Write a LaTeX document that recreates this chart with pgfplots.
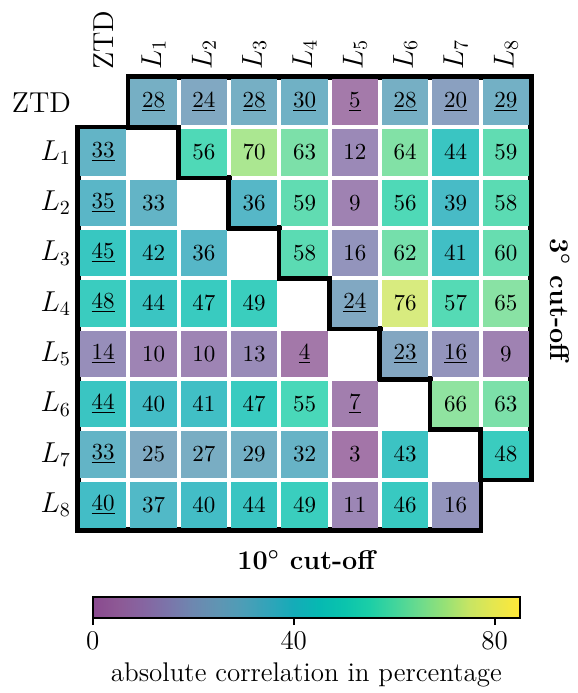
\RequirePackage{fix-cm}
\documentclass[border=0pt]{standalone}
\usepackage{pgfplots}
\usepackage{pgfplotstable}
\pgfplotsset{compat=1.18}

\pgfplotstableread{
x y v
2 1 56
3 1 70
4 1 63
5 1 12
6 1 64
7 1 44
8 1 59
1 2 33
3 2 36
4 2 59
5 2 9
6 2 56
7 2 39
8 2 58
1 3 42
2 3 36
4 3 58
5 3 16
6 3 62
7 3 41
8 3 60
1 4 44
2 4 47
3 4 49
6 4 76
7 4 57
8 4 65
1 5 10
2 5 10
3 5 13
8 5 9
1 6 40
2 6 41
3 6 47
4 6 55
7 6 66
8 6 63
1 7 25
2 7 27
3 7 29
4 7 32
5 7 3
6 7 43
8 7 48
1 8 37
2 8 40
3 8 44
4 8 49
5 8 11
6 8 46
7 8 16
}\tabplain

\pgfplotstableread{
x y v
1 0 28
2 0 24
3 0 28
4 0 30
5 0 5
6 0 28
7 0 20
8 0 29
0 1 33
0 2 35
0 3 45
0 4 48
0 5 14
0 6 44
0 7 33
0 8 40
5 4 24
4 5 4
6 5 23
7 5 16
5 6 7
}\tabunder

\newcommand{\lab}{\fontsize{14.4}{17}\selectfont}
\newcommand{\cbl}{\fontsize{13.5}{16}\selectfont}
\newcommand{\cel}{\fontsize{11.5}{13}\selectfont}

\pgfplotsset{
  colormap={cmap}{
    rgb255=(138,74,143) rgb255=(141,89,149) rgb255=(134,101,161) rgb255=(123,117,170)
    rgb255=(109,136,176) rgb255=(95,149,179) rgb255=(76,158,183) rgb255=(49,164,185)
    rgb255=(20,172,184) rgb255=(6,185,178) rgb255=(10,196,173) rgb255=(27,206,167)
    rgb255=(65,213,156) rgb255=(108,219,141) rgb255=(150,225,118) rgb255=(200,229,99)
    rgb255=(230,231,78) rgb255=(255,232,56)
  },
}

\begin{document}
\begin{tikzpicture}
\begin{axis}[
  name=m,
  colormap name=cmap,
  width=226.5pt, height=226.5pt, scale only axis,
  xmin=-0.5, xmax=8.5, ymin=-0.5, ymax=8.5,
  y dir=reverse,
  clip=false,
  axis line style={draw=none},
  major tick length=0pt,
  xtick={0,...,8}, ytick={0,...,8},
  xticklabels={ZTD,$L_1$,$L_2$,$L_3$,$L_4$,$L_5$,$L_6$,$L_7$,$L_8$},
  yticklabels={ZTD,$L_1$,$L_2$,$L_3$,$L_4$,$L_5$,$L_6$,$L_7$,$L_8$},
  xticklabel pos=upper,
  xticklabel style={rotate=90, anchor=west, font=\lab},
  yticklabel style={font=\lab},
  point meta min=0, point meta max=85,
  colorbar horizontal,
  colorbar style={
    at={(0.504,-0.148)}, anchor=north,
    width=213.5pt, height=10.5pt, scale only axis,
    xtick={0,40,80},
    xtick pos=left,
    tick align=outside,
    major tick length=3.5pt,
    every tick/.style={black, line width=0.8pt},
    axis line style={black, line width=0.7pt},
    xticklabel style={font=\cbl},
    xlabel={absolute correlation in percentage},
    xlabel style={font=\cbl},
  },
]
\addplot[scatter, only marks, mark=square*, mark size=11.3pt,
  point meta=explicit,
  scatter/use mapped color={draw=mapped color!80!white, line width=0pt, fill=mapped color!80!white}]
  table[x=x, y=y, meta=v] {\tabplain};
\addplot[scatter, only marks, mark=square*, mark size=11.3pt,
  point meta=explicit,
  scatter/use mapped color={draw=mapped color!80!white, line width=0pt, fill=mapped color!80!white}]
  table[x=x, y=y, meta=v] {\tabunder};
\addplot[scatter, only marks, mark=none,
  point meta=explicit,
  nodes near coords={\pgfmathprintnumber{\pgfplotspointmeta}},
  nodes near coords align={center},
  every node near coord/.append style={font=\cel, text=black}]
  table[x=x, y=y, meta=v] {\tabplain};
\addplot[scatter, only marks, mark=none,
  point meta=explicit,
  nodes near coords={\underline{\pgfmathprintnumber{\pgfplotspointmeta}}},
  nodes near coords align={center},
  every node near coord/.append style={font=\cel, text=black}]
  table[x=x, y=y, meta=v] {\tabunder};
\addplot[black, line width=2.8pt, line join=miter, no marks, point meta=none] coordinates {
  (4.5,-0.5) (8.5,-0.5) (8.5,7.5) (7.5,7.5) (7.5,6.5) (6.5,6.5) (6.5,5.5)
  (5.5,5.5) (5.5,4.5) (4.5,4.5) (4.5,3.5) (3.5,3.5) (3.5,2.5) (2.5,2.5)
  (2.5,1.5) (1.5,1.5) (1.5,0.5) (0.5,0.5) (0.5,-0.5) (4.5,-0.5)};
\addplot[black, line width=2.8pt, line join=miter, no marks, point meta=none] coordinates {
  (3.5,8.5) (-0.5,8.5) (-0.5,0.5) (1.5,0.5) (1.5,1.5) (2.5,1.5) (2.5,2.5)
  (3.5,2.5) (3.5,3.5) (4.5,3.5) (4.5,4.5) (5.5,4.5) (5.5,5.5) (6.5,5.5)
  (6.5,6.5) (7.5,6.5) (7.5,8.5) (3.5,8.5)};
\node[font=\cbl\bfseries\boldmath, anchor=center] at (axis description cs:0.504,-0.066) {10$^{\circ}$ cut-off};
\node[font=\cbl\bfseries\boldmath, anchor=center, rotate=-90] at (axis description cs:1.064,0.508) {3$^{\circ}$ cut-off};
\end{axis}
\pgfresetboundingbox
\path[use as bounding box] ([xshift=-39pt,yshift=-81.5pt]m.south west) rectangle ([xshift=23pt,yshift=38.5pt]m.north east);
\end{tikzpicture}
\end{document}
